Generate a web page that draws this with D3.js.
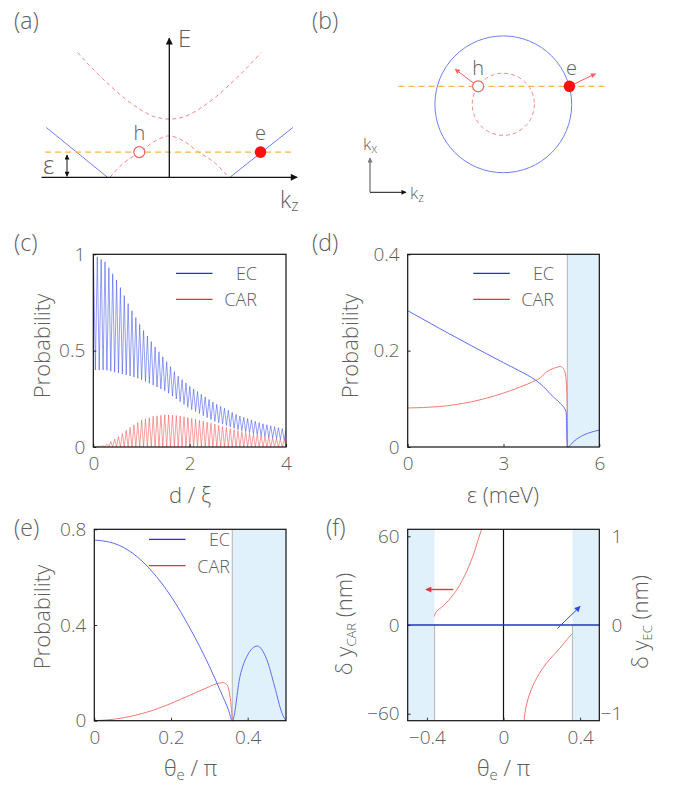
<!DOCTYPE html>
<html>
<head>
<meta charset="utf-8">
<script src="https://cdn.jsdelivr.net/npm/d3@7"></script>
<style>
  body { margin: 0; background: #fff; }
  svg text { font-family: "Open Sans", Lato, sans-serif; font-weight: 300; fill: #5e5e5e; }
</style>
</head>
<body>
<svg id="fig" width="683" height="787"></svg>
<script>
// ---- (a) band sketch, arbitrary units ----
var bandK = [-1.53, -1.25, -1.0, -0.75, -0.5, -0.25, 0, 0.25, 0.5, 0.75, 1.0, 1.25, 1.53]
var upperBandE = [2.08, 1.78, 1.54, 1.32, 1.14, 1.01, 0.97, 1.01, 1.14, 1.32, 1.54, 1.78, 2.08]
var holeK = [-0.99, -0.77, -0.49, -0.21, 0, 0.21, 0.49, 0.77, 0.99]
var holeE = [0, 0.23, 0.42, 0.62, 0.69, 0.62, 0.42, 0.23, 0]
var elecLeftK = [-2.05, -1.03], elecLeftE = [0.83, 0]
var elecRightK = [1.01, 2.06], elecRightE = [0, 0.83]
var epsLevel = 0.42
var holeKz = -0.5, elecKz = 1.52

// ---- (b) Fermi circles ----
var radiusElec = 1.52, radiusHole = 0.69, kxLevel = 0.4
var holeKzB = -0.56, elecKzB = 1.47
var holeVel = [-0.51, 0.38], elecVel = [0.58, 0.28]

// ---- (c) probability vs d/xi (envelopes of the fast oscillation) ----
var dGrid = [0, 0.25, 0.5, 0.75, 1, 1.25, 1.5, 1.75, 2, 2.5, 3, 3.5, 4]
var ecPeakC = [1.0, 0.96, 0.86, 0.73, 0.62, 0.53, 0.45, 0.37, 0.315, 0.23, 0.165, 0.122, 0.09]
var ecTroughC = [0.40, 0.40, 0.385, 0.37, 0.35, 0.32, 0.29, 0.245, 0.2, 0.135, 0.09, 0.058, 0.035]
var carPeakC = [0, 0.01, 0.05, 0.10, 0.14, 0.16, 0.167, 0.163, 0.152, 0.12, 0.085, 0.058, 0.035]
var carTroughC = [0, 0, 0, 0, 0, 0, 0, 0, 0, 0, 0, 0, 0]
var oscPeriod = 0.08, firstPeak = 0.083

// ---- (d) probability vs epsilon ----
var ecEpsX = [0, 1, 2, 3, 3.5, 4, 4.14, 4.56, 4.77, 4.96, 5.0, 5.05, 5.19, 5.4, 5.71, 6]
var ecEpsY = [0.283, 0.246, 0.21, 0.175, 0.158, 0.139, 0.132, 0.104, 0.091, 0.073, 0, 0.001, 0.011, 0.021, 0.03, 0.035]
var carEpsX = [0, 1, 2, 3, 3.5, 4, 4.14, 4.35, 4.56, 4.79, 4.9, 4.95, 4.98, 4.995, 5.0]
var carEpsY = [0.081, 0.084, 0.094, 0.112, 0.124, 0.138, 0.143, 0.156, 0.163, 0.167, 0.16, 0.146, 0.118, 0.084, 0]
var epsCrit = 5.0

// ---- (e) probability vs theta_e / pi ----
var thetaEC = [0, 0.05, 0.1, 0.15, 0.2, 0.25, 0.3, 0.33, 0.35, 0.36, 0.38, 0.4, 0.425, 0.45, 0.47, 0.49, 0.5]
var ecTheta = [0.755, 0.742, 0.70, 0.625, 0.52, 0.385, 0.228, 0.12, 0.045, 0, 0.185, 0.275, 0.312, 0.255, 0.145, 0.03, 0]
var thetaCAR = [0, 0.05, 0.1, 0.15, 0.2, 0.25, 0.3, 0.32, 0.335, 0.345, 0.352, 0.357, 0.36]
var carTheta = [0, 0.006, 0.02, 0.042, 0.072, 0.107, 0.142, 0.155, 0.159, 0.152, 0.12, 0.06, 0]
var thetaCrit = 0.36

// ---- (f) lateral shifts ----
var carLeftTheta = [-0.361, -0.349, -0.314, -0.262, -0.218, -0.184, -0.154, -0.132, -0.114]
var carLeftShift = [5.8, 9.2, 13, 20.5, 29.5, 38.6, 48.7, 57.7, 65]
var carRightTheta = [0.359, 0.33, 0.295, 0.26, 0.225, 0.173, 0.138, 0.112, 0.107]
var carRightShift = [-5.9, -10, -15.6, -20.5, -25.7, -35.9, -46, -59.5, -64.5]
var ecShiftTheta = [-0.5, 0.5], ecShift = [0, 0]

var BLUE = '#5d6df2', RED = '#f27a72', LEG_BLUE = '#1f2fe0', LEG_RED = '#e8312b'
var SHADE = '#e1f1fc', EDGE = '#bdbdbd', FONT = '"Open Sans", Lato, sans-serif'

var svg = d3.select('#fig')
var defs = svg.append('defs')
function marker(id, color, w, h) {
  defs.append('marker').attr('id', id).attr('viewBox', '0 0 10 10').attr('refX', 9).attr('refY', 5)
    .attr('markerWidth', w).attr('markerHeight', h).attr('orient', 'auto-start-reverse')
    .attr('markerUnits', 'userSpaceOnUse')
    .append('path').attr('d', 'M0,0 L10,5 L0,10 Z').attr('fill', color)
}
marker('arrBlack', '#111', 8, 7)
marker('arrSmall', '#111', 6, 5)
marker('arrGray', '#777', 6, 5)
marker('arrRed', '#f06060', 6, 5)
marker('arrRedF', '#d83a3a', 7, 6)
marker('arrBlueF', '#3347ee', 7, 6)

function label(txt, x, y, size, anchor) {
  return svg.append('text').attr('x', x).attr('y', y).attr('font-size', size)
    .attr('text-anchor', anchor || 'start').text(txt)
}
label('(a)', 14, 29, 23); label('(b)', 312, 29, 23)
label('(c)', 14, 251, 23); label('(d)', 312, 251, 23)
label('(e)', 14, 536, 23); label('(f)', 326, 536, 23)

// ================= (a) =================
var xa = d3.scaleLinear().domain([-1, 1]).range([109.3, 229.3])
var ya = d3.scaleLinear().domain([0, 1]).range([177.3, 117.3])
var lineA = d3.line().x(function(d) { return xa(d[0]) }).y(function(d) { return ya(d[1]) }).curve(d3.curveMonotoneX)
svg.append('path').attr('d', lineA(d3.zip(bandK, upperBandE))).attr('fill', 'none')
  .attr('stroke', '#f28a8a').attr('stroke-width', 1).attr('stroke-dasharray', '4,3')
svg.append('path').attr('d', lineA(d3.zip(holeK, holeE))).attr('fill', 'none')
  .attr('stroke', '#f28a8a').attr('stroke-width', 1).attr('stroke-dasharray', '4,3')
;[[elecLeftK, elecLeftE], [elecRightK, elecRightE]].forEach(function(s) {
  svg.append('path').attr('d', d3.line().x(function(d) { return xa(d[0]) }).y(function(d) { return ya(d[1]) })(d3.zip(s[0], s[1])))
    .attr('stroke', '#6f7ff0').attr('stroke-width', 1).attr('fill', 'none')
})
svg.append('line').attr('x1', xa(-2.07)).attr('x2', xa(2.07)).attr('y1', ya(epsLevel)).attr('y2', ya(epsLevel))
  .attr('stroke', '#f7b54a').attr('stroke-width', 1.2).attr('stroke-dasharray', '6,4')
svg.append('line').attr('x1', xa(-2.13)).attr('x2', xa(2.13)).attr('y1', ya(0)).attr('y2', ya(0))
  .attr('stroke', '#111').attr('stroke-width', 1.3).attr('marker-end', 'url(#arrBlack)')
svg.append('line').attr('x1', xa(0)).attr('x2', xa(0)).attr('y1', ya(0)).attr('y2', ya(2.32))
  .attr('stroke', '#111').attr('stroke-width', 1.3).attr('marker-end', 'url(#arrBlack)')
svg.append('line').attr('x1', 67).attr('x2', 67).attr('y1', ya(0) - 1).attr('y2', ya(epsLevel) + 3)
  .attr('stroke', '#111').attr('stroke-width', 1).attr('marker-end', 'url(#arrSmall)').attr('marker-start', 'url(#arrSmall)')
svg.append('circle').attr('cx', xa(holeKz)).attr('cy', ya(epsLevel)).attr('r', 5.5)
  .attr('fill', '#fff').attr('stroke', '#f06060').attr('stroke-width', 1.2)
svg.append('circle').attr('cx', xa(elecKz)).attr('cy', ya(epsLevel)).attr('r', 5.8).attr('fill', '#ff1010')
label('h', xa(holeKz), 140, 20, 'middle')
label('e', xa(elecKz), 140, 20, 'middle')
label('E', 178, 47, 24)
label('ε', 43, 174, 25)
var kzA = label('k', 280, 208, 23)
kzA.append('tspan').attr('font-size', 16).attr('dy', 3).text('z')

// ================= (b) =================
var xb = d3.scaleLinear().domain([0, 1]).range([503.3, 548.3])
var yb = d3.scaleLinear().domain([0, 1]).range([104.3, 59.3])
svg.append('circle').attr('cx', xb(0)).attr('cy', yb(0)).attr('r', xb(radiusElec) - xb(0))
  .attr('fill', 'none').attr('stroke', '#6f7ff0').attr('stroke-width', 1)
svg.append('circle').attr('cx', xb(0)).attr('cy', yb(0)).attr('r', xb(radiusHole) - xb(0))
  .attr('fill', 'none').attr('stroke', '#f28a8a').attr('stroke-width', 1).attr('stroke-dasharray', '4,3')
svg.append('line').attr('x1', xb(-2.33)).attr('x2', xb(2.33)).attr('y1', yb(kxLevel)).attr('y2', yb(kxLevel))
  .attr('stroke', '#f7b54a').attr('stroke-width', 1.2).attr('stroke-dasharray', '6,4')
svg.append('line').attr('x1', xb(holeKzB - 0.1)).attr('y1', yb(kxLevel + 0.07))
  .attr('x2', xb(holeKzB + holeVel[0])).attr('y2', yb(kxLevel + holeVel[1]))
  .attr('stroke', '#f06060').attr('stroke-width', 1).attr('marker-end', 'url(#arrRed)')
svg.append('line').attr('x1', xb(elecKzB)).attr('y1', yb(kxLevel))
  .attr('x2', xb(elecKzB + elecVel[0])).attr('y2', yb(kxLevel + elecVel[1]))
  .attr('stroke', '#f06060').attr('stroke-width', 1).attr('marker-end', 'url(#arrRed)')
svg.append('circle').attr('cx', xb(holeKzB)).attr('cy', yb(kxLevel)).attr('r', 5.5)
  .attr('fill', '#fff').attr('stroke', '#f06060').attr('stroke-width', 1.2)
svg.append('circle').attr('cx', xb(elecKzB)).attr('cy', yb(kxLevel)).attr('r', 5.8).attr('fill', '#ff1010')
label('h', xb(holeKzB), 75, 20, 'middle')
label('e', xb(elecKzB) + 2, 75, 20, 'middle')
svg.append('line').attr('x1', 370).attr('x2', 370).attr('y1', 192.3).attr('y2', 158)
  .attr('stroke', '#777').attr('stroke-width', 1.3).attr('marker-end', 'url(#arrGray)')
svg.append('line').attr('x1', 370).attr('x2', 406).attr('y1', 192.3).attr('y2', 192.3)
  .attr('stroke', '#111').attr('stroke-width', 1).attr('marker-end', 'url(#arrSmall)')
var kxB = label('k', 363, 150, 17)
kxB.append('tspan').attr('font-size', 12).attr('dy', 3).text('x')
var kzB = label('k', 410, 199, 17)
kzB.append('tspan').attr('font-size', 12).attr('dy', 3).text('z')

// ================= shared axis helpers =================
var fmt = d3.format('~g')
function styleAxis(g) {
  g.attr('font-family', FONT).attr('font-size', 19)
  g.select('.domain').remove()
  g.selectAll('.tick line').attr('stroke', '#333')
  g.selectAll('.tick text').attr('fill', '#5e5e5e')
}
function bottomLeft(x, y, xt, yt) {
  svg.append('g').attr('transform', 'translate(0,' + y.range()[0] + ')')
    .call(d3.axisBottom(x).tickValues(xt).tickSizeInner(-3).tickSizeOuter(0).tickPadding(10).tickFormat(fmt))
    .call(styleAxis)
  svg.append('g').attr('transform', 'translate(' + x.range()[0] + ',0)')
    .call(d3.axisLeft(y).tickValues(yt).tickSizeInner(-3).tickSizeOuter(0).tickPadding(8).tickFormat(fmt))
    .call(styleAxis)
}
function frame(x, y) {
  svg.append('rect').attr('x', x.range()[0]).attr('y', y.range()[1])
    .attr('width', x.range()[1] - x.range()[0]).attr('height', y.range()[0] - y.range()[1])
    .attr('fill', 'none').attr('stroke', '#111').attr('stroke-width', 1.2)
}
function clip(id, x, y) {
  defs.append('clipPath').attr('id', id).append('rect').attr('x', x.range()[0]).attr('y', y.range()[1])
    .attr('width', x.range()[1] - x.range()[0]).attr('height', y.range()[0] - y.range()[1])
}
function legend(x0, yEC, yCAR, xText) {
  svg.append('line').attr('x1', x0).attr('x2', x0 + 36.5).attr('y1', yEC).attr('y2', yEC).attr('stroke', LEG_BLUE).attr('stroke-width', 1.2)
  svg.append('line').attr('x1', x0).attr('x2', x0 + 36.5).attr('y1', yCAR).attr('y2', yCAR).attr('stroke', LEG_RED).attr('stroke-width', 1.2)
  label('EC', xText, yEC + 7, 18, 'end')
  label('CAR', xText, yCAR + 7, 18, 'end')
}
function yTitle(txt, cx, cy) {
  return svg.append('text').attr('transform', 'translate(' + cx + ',' + cy + ') rotate(-90)')
    .attr('text-anchor', 'middle').attr('font-size', 22).attr('dy', '0.35em').text(txt)
}
function thetaTitle(cx, y) {
  var t = label('θ', cx - 26, y, 22)
  t.append('tspan').attr('font-size', 15).attr('dy', 4).text('e')
  t.append('tspan').attr('font-size', 22).attr('dy', -4).text(' / π')
}

// ================= (c) =================
var xc = d3.scaleLinear().domain([0, 4]).range([93.3, 286])
var yc = d3.scaleLinear().domain([0, 1]).range([447, 254.3])
clip('clipC', xc, yc)
function oscillation(peak, trough, shift) {
  var hi = d3.scaleLinear().domain(dGrid).range(peak)
  var lo = d3.scaleLinear().domain(dGrid).range(trough)
  var pts = []
  for (var k = -1; firstPeak + shift + k * oscPeriod < 4.1; k++) {
    var dp = firstPeak + shift + k * oscPeriod
    var dt = dp + oscPeriod / 2
    pts.push([dp, hi(Math.max(0, Math.min(4, dp)))])
    pts.push([dt, lo(Math.max(0, Math.min(4, dt)))])
  }
  return pts
}
var lineC = d3.line().x(function(d) { return xc(d[0]) }).y(function(d) { return yc(d[1]) })
var gc = svg.append('g').attr('clip-path', 'url(#clipC)')
gc.append('path').attr('d', lineC(oscillation(carPeakC, carTroughC, oscPeriod / 2)))
  .attr('fill', 'none').attr('stroke', '#f25252').attr('stroke-width', 0.55)
gc.append('path').attr('d', lineC(oscillation(ecPeakC, ecTroughC, 0)))
  .attr('fill', 'none').attr('stroke', '#3d50ec').attr('stroke-width', 0.55)
bottomLeft(xc, yc, [0, 2, 4], [0, 0.5, 1])
frame(xc, yc)
legend(176, 273.3, 299.3, 257)
yTitle('Probability', 42, 346)
label('d / ξ', 190, 503, 22, 'middle')

// ================= (d) =================
var xd = d3.scaleLinear().domain([0, 6]).range([407.7, 599.3])
var yd = d3.scaleLinear().domain([0, 0.4]).range([447, 254.3])
svg.append('rect').attr('x', xd(epsCrit)).attr('y', yd(0.4)).attr('width', xd(6) - xd(epsCrit))
  .attr('height', yd(0) - yd(0.4)).attr('fill', SHADE)
svg.append('line').attr('x1', xd(epsCrit)).attr('x2', xd(epsCrit)).attr('y1', yd(0.4)).attr('y2', yd(0))
  .attr('stroke', EDGE).attr('stroke-width', 1.2)
var lineD = d3.line().x(function(d) { return xd(d[0]) }).y(function(d) { return yd(d[1]) }).curve(d3.curveMonotoneX)
svg.append('path').attr('d', lineD(d3.zip(carEpsX, carEpsY))).attr('fill', 'none').attr('stroke', RED).attr('stroke-width', 1)
svg.append('path').attr('d', lineD(d3.zip(ecEpsX, ecEpsY))).attr('fill', 'none').attr('stroke', BLUE).attr('stroke-width', 1)
bottomLeft(xd, yd, [0, 3, 6], [0, 0.2, 0.4])
frame(xd, yd)
legend(473.3, 273.3, 299.3, 554)
yTitle('Probability', 350, 346)
label('ε (meV)', 503, 503, 22, 'middle')

// ================= (e) =================
var xe = d3.scaleLinear().domain([0, 0.5]).range([94.3, 286])
var ye = d3.scaleLinear().domain([0, 0.8]).range([720.7, 529.3])
svg.append('rect').attr('x', xe(thetaCrit)).attr('y', ye(0.8)).attr('width', xe(0.5) - xe(thetaCrit))
  .attr('height', ye(0) - ye(0.8)).attr('fill', SHADE)
svg.append('line').attr('x1', xe(thetaCrit)).attr('x2', xe(thetaCrit)).attr('y1', ye(0.8)).attr('y2', ye(0))
  .attr('stroke', EDGE).attr('stroke-width', 1.2)
var lineE = d3.line().x(function(d) { return xe(d[0]) }).y(function(d) { return ye(d[1]) }).curve(d3.curveMonotoneX)
svg.append('path').attr('d', lineE(d3.zip(thetaCAR, carTheta))).attr('fill', 'none').attr('stroke', RED).attr('stroke-width', 1)
svg.append('path').attr('d', lineE(d3.zip(thetaEC, ecTheta))).attr('fill', 'none').attr('stroke', BLUE).attr('stroke-width', 1)
bottomLeft(xe, ye, [0, 0.2, 0.4], [0, 0.4, 0.8])
frame(xe, ye)
legend(149, 539.3, 565.7, 230)
yTitle('Probability', 42, 617)
thetaTitle(190, 776)

// ================= (f) =================
var xf = d3.scaleLinear().domain([-0.5, 0.5]).range([407.7, 599.3])
var yf = d3.scaleLinear().domain([-64.7, 64.7]).range([720.7, 529.3])
var yfr = d3.scaleLinear().domain([-64.7 / 60, 64.7 / 60]).range([720.7, 529.3])
;[[-0.5, -thetaCrit], [thetaCrit, 0.5]].forEach(function(r) {
  svg.append('rect').attr('x', xf(r[0])).attr('y', yf(64.7)).attr('width', xf(r[1]) - xf(r[0]))
    .attr('height', yf(-64.7) - yf(64.7)).attr('fill', SHADE)
})
;[-thetaCrit, thetaCrit].forEach(function(t) {
  svg.append('line').attr('x1', xf(t)).attr('x2', xf(t)).attr('y1', yf(0)).attr('y2', yf(-64.7))
    .attr('stroke', EDGE).attr('stroke-width', 1.2)
})
svg.append('line').attr('x1', xf(0)).attr('x2', xf(0)).attr('y1', yf(64.7)).attr('y2', yf(-64.7))
  .attr('stroke', '#111').attr('stroke-width', 1.2)
var lineF = d3.line().x(function(d) { return xf(d[0]) }).y(function(d) { return yf(d[1]) }).curve(d3.curveMonotoneY)
svg.append('path').attr('d', lineF(d3.zip(carLeftTheta, carLeftShift))).attr('fill', 'none').attr('stroke', RED).attr('stroke-width', 1)
svg.append('path').attr('d', lineF(d3.zip(carRightTheta, carRightShift))).attr('fill', 'none').attr('stroke', RED).attr('stroke-width', 1)
svg.append('path').attr('d', d3.line().x(function(d) { return xf(d[0]) }).y(function(d) { return yfr(d[1]) })(d3.zip(ecShiftTheta, ecShift)))
  .attr('fill', 'none').attr('stroke', '#2233c4').attr('stroke-width', 1.3)
svg.append('line').attr('x1', xf(-0.262)).attr('y1', yf(24)).attr('x2', xf(-0.405)).attr('y2', yf(24))
  .attr('stroke', '#d83a3a').attr('stroke-width', 1.4).attr('marker-end', 'url(#arrRedF)')
svg.append('line').attr('x1', xf(0.281)).attr('y1', yfr(-0.04)).attr('x2', xf(0.4)).attr('y2', yfr(0.21))
  .attr('stroke', '#3347ee').attr('stroke-width', 1).attr('marker-end', 'url(#arrBlueF)')
bottomLeft(xf, yf, [-0.4, 0, 0.4], [-60, 0, 60])
var gr = svg.append('g').attr('transform', 'translate(' + xf(0.5) + ',0)')
  .call(d3.axisRight(yfr).tickValues([-1, 0, 1]).tickSize(0).tickPadding(23).tickFormat(fmt))
  .call(styleAxis)
gr.selectAll('.tick text').attr('text-anchor', 'end')
frame(xf, yf)
var tl = svg.append('text').attr('transform', 'translate(352,624) rotate(-90)').attr('text-anchor', 'middle').attr('font-size', 22)
tl.append('tspan').text('δ y')
tl.append('tspan').attr('font-size', 13).attr('dy', 4).text('CAR')
tl.append('tspan').attr('dy', -4).text(' (nm)')
var tr = svg.append('text').attr('transform', 'translate(648,622) rotate(-90)').attr('text-anchor', 'middle').attr('font-size', 22)
tr.append('tspan').text('δ y')
tr.append('tspan').attr('font-size', 13).attr('dy', 4).text('EC')
tr.append('tspan').attr('dy', -4).text(' (nm)')
thetaTitle(503, 776)
</script>
</body>
</html>
